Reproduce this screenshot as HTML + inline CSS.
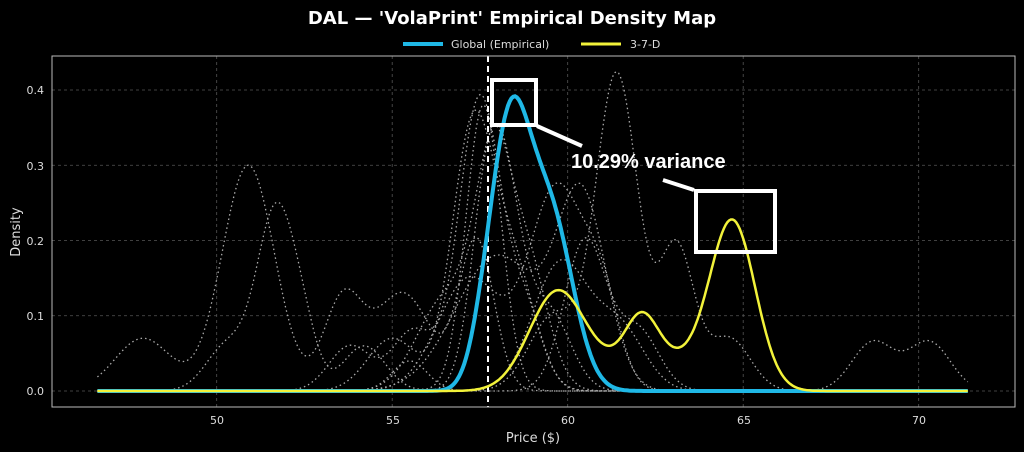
<!DOCTYPE html>
<html><head><meta charset="utf-8"><style>
html,body{margin:0;padding:0;background:#000;}
svg{display:block;font-family:"DejaVu Sans","Liberation Sans",sans-serif;}
</style></head><body>
<svg id="s" width="1024" height="452" xmlns="http://www.w3.org/2000/svg">
<rect width="1024" height="452" fill="#000"/>
<text x="512" y="24" fill="#fff" font-size="18" font-weight="bold" text-anchor="middle">DAL — 'VolaPrint' Empirical Density Map</text>
<line x1="403" y1="44" x2="443" y2="44" stroke="#1fb8e6" stroke-width="4"/>
<text x="451" y="48" fill="#ddd" font-size="11">Global (Empirical)</text>
<line x1="581" y1="44" x2="621" y2="44" stroke="#f2f23a" stroke-width="3"/>
<text x="630" y="48" fill="#ddd" font-size="11">3-7-D</text>
<g id="grid" stroke="#555" stroke-width="0.8" stroke-dasharray="3,3"></g>
<g id="gray" fill="none" stroke="#aaa" stroke-width="1.3" stroke-dasharray="1.5,3"></g>
<line x1="488" y1="56" x2="488" y2="407" stroke="#fff" stroke-width="2" stroke-dasharray="6,4"/>
<path id="blue" fill="none" stroke="#1fb8e6" stroke-width="4"/>
<path id="yel" fill="none" stroke="#f2f23a" stroke-width="2.5"/>
<rect x="52" y="56" width="963" height="351" fill="none" stroke="#bbb" stroke-width="1"/>
<g fill="#ddd" font-size="11" text-anchor="end">
<text x="44" y="395">0.0</text><text x="44" y="320">0.1</text><text x="44" y="245">0.2</text><text x="44" y="170">0.3</text><text x="44" y="94">0.4</text>
</g>
<g fill="#ddd" font-size="11" text-anchor="middle">
<text x="217" y="424">50</text><text x="393" y="424">55</text><text x="568" y="424">60</text><text x="744" y="424">65</text><text x="919" y="424">70</text>
</g>
<text x="533" y="442" fill="#ddd" font-size="13" text-anchor="middle">Price ($)</text>
<text x="20" y="232" fill="#ddd" font-size="13" text-anchor="middle" transform="rotate(-90 20 232)">Density</text>
<g fill="none" stroke="#fff" stroke-width="4">
<rect x="492" y="80" width="44" height="45"/>
<rect x="696" y="191" width="79" height="61"/>
<line x1="537" y1="126" x2="582" y2="146"/>
<line x1="663" y1="180" x2="694" y2="190"/>
</g>
<text x="571" y="168" fill="#fff" font-size="20" font-weight="bold" font-family="Liberation Sans,sans-serif">10.29% variance</text>
</svg>
<script>
var X=p=>216.7+(p-50)*35.1, Y=d=>391-d*752.5;
function g(m,s,h){return x=>h*Math.exp(-0.5*((x-m)/s)**2);}
function path(fs,a,b){var d="";for(var p=a;p<=b+1e-9;p+=0.05){var v=0;fs.forEach(f=>v+=f(p));d+=(d?"L":"M")+X(p).toFixed(1)+","+Y(v).toFixed(1);}return d;}
var grid=document.getElementById("grid"),h="";
[50,55,60,65,70].forEach(p=>h+='<line x1="'+X(p)+'" y1="56" x2="'+X(p)+'" y2="407"/>');
[0,0.1,0.2,0.3,0.4].forEach(d=>h+='<line x1="52" y1="'+Y(d)+'" x2="1015" y2="'+Y(d)+'"/>');
grid.innerHTML=h;
var grays=[
[g(47.9,0.8,0.07),g(50.9,0.75,0.3),g(53.6,0.55,0.12),g(55.3,0.8,0.13),g(57.4,0.5,0.2)],
[g(50.3,0.6,0.06),g(51.7,0.55,0.24),g(52.5,0.4,0.05),g(54.2,0.6,0.06),g(57.6,0.5,0.38)],
[g(53.8,0.6,0.06),g(55.6,0.6,0.08),g(57.5,0.6,0.39),g(58.8,0.5,0.1)],
[g(55,0.7,0.07),g(57.3,0.6,0.35),g(58.5,0.6,0.15)],
[g(56.5,0.8,0.12),g(58,0.6,0.33),g(59.5,0.6,0.1)],
[g(57.2,0.9,0.15),g(59.7,0.8,0.27),g(61,0.5,0.1)],
[g(58,1.2,0.18),g(60.4,0.7,0.25)],
[g(55.5,0.5,0.04),g(61.4,0.6,0.42),g(59.6,0.7,0.1),g(63.1,0.5,0.19),g(64.6,0.6,0.07),g(68.7,0.6,0.065),g(70.3,0.6,0.065)],
[g(59.8,0.8,0.17),g(61.5,0.7,0.08)],
[g(57.8,0.5,0.3),g(58.8,0.6,0.18)],
[g(60.5,0.6,0.2),g(62,0.6,0.08)]
];
var gs="";grays.forEach(c=>gs+='<path d="'+path(c,46.6,71.4)+'"/>');
document.getElementById("gray").innerHTML=gs;
document.getElementById("blue").setAttribute("d",path([g(58.35,0.55,0.33),g(59.5,0.65,0.23),g(57.6,0.4,0.04)],46.6,71.4));
document.getElementById("yel").setAttribute("d",path([g(59.7,0.8,0.13),g(62.1,0.45,0.055),g(62.4,1.2,0.05),g(64.7,0.65,0.22)],46.6,71.4));
</script>
</body></html>
